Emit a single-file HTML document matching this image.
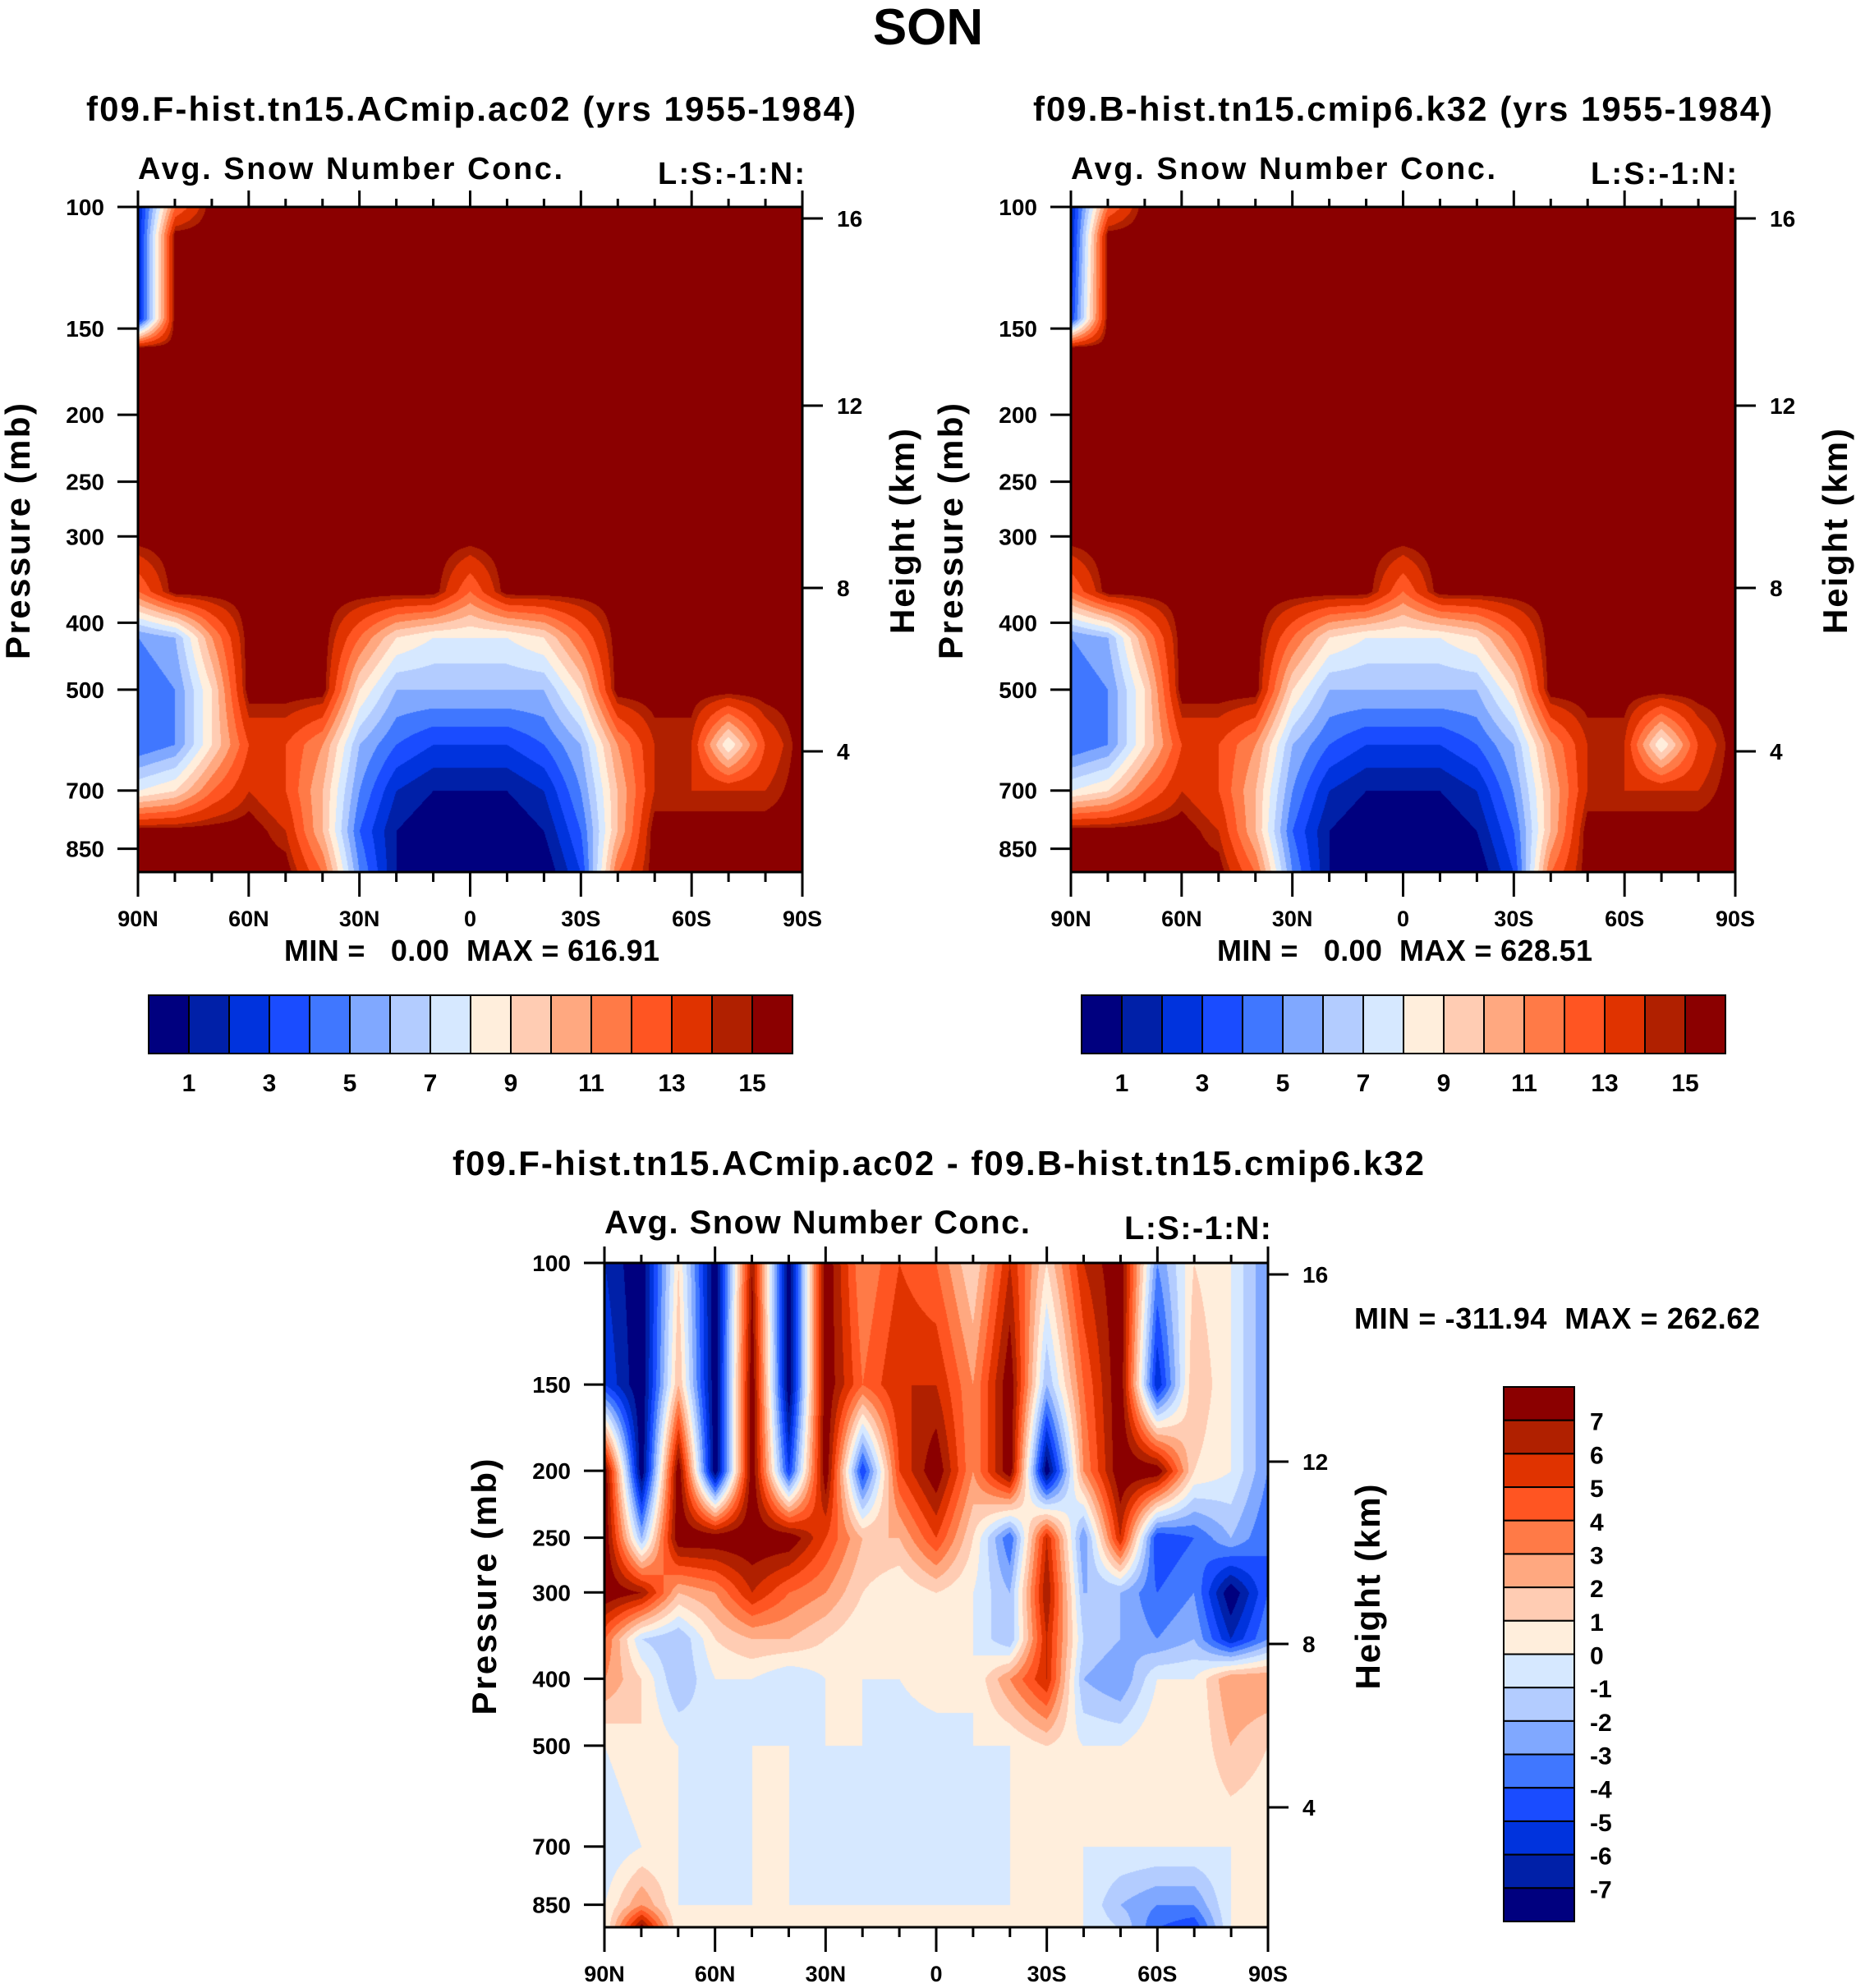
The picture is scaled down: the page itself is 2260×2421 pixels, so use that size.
<!DOCTYPE html>
<html><head><meta charset="utf-8">
<style>
html,body{margin:0;padding:0;background:#fff;}
#wrap{position:relative;width:2260px;height:2421px;overflow:hidden;background:#fff;}
canvas{position:absolute;}
svg{position:absolute;left:0;top:0;}
text{font-family:"Liberation Sans",sans-serif;font-weight:bold;fill:#000;white-space:pre;}
</style></head>
<body>
<div id="wrap">
<canvas id="c1" width="809" height="810" style="left:168px;top:252px"></canvas>
<canvas id="c2" width="809" height="810" style="left:1304px;top:252px"></canvas>
<canvas id="c3" width="808" height="809" style="left:736px;top:1538px"></canvas>
<svg id="ov" width="2260" height="2421"></svg>
</div>
<script>
// ---- data ----
const palette = ["#00007f","#0020a8","#0033dd","#1a4cff","#4077ff","#80a8ff","#b3ccff","#d6e8ff","#ffeedc","#ffccb3","#ffa880","#ff7a47","#ff5522","#e03300","#b02000","#8b0000"];
const topLabels = ["1","3","5","7","9","11","13","15"];
const diffLabels = ["7","6","5","4","3","2","1","0","-1","-2","-3","-4","-5","-6","-7"];
const latLabels = ["90N","60N","30N","0","30S","60S","90S"];
const pressTicks = [100,150,200,250,300,400,500,700,850];
const heightTicks = [16,12,8,4];
const heightOffsets = [14,242,464,663];
const topPress = [100,110,145,160,300,360,420,500,600,700,800,920];
const fieldA = [
[2,12,15,15,15,15,15,15,15,15,15,15,15,15,15,15,15,15,15],
[2,15,15,15,15,15,15,15,15,15,15,15,15,15,15,15,15,15,15],
[2,15,15,15,15,15,15,15,15,15,15,15,15,15,15,15,15,15,15],
[15,15,15,15,15,15,15,15,15,15,15,15,15,15,15,15,15,15,15],
[15,15,15,15,15,15,15,15,15,15,15,15,15,15,15,15,15,15,15],
[12,15,15,15,15,15,15,15,15,12,15,15,15,15,15,15,15,15,15],
[5,6,11,15,15,15,12,9,8,8,8,9,12,15,15,15,15,15,15],
[4,5,9,15,15,15,9,6,6,6,6,6,9,15,15,15,15,15,15],
[4,5,9,13,13,11,6,4,3,3,3,4,6,11,14,14,8,13,15],
[8,9,12,14,13,10,5,2,1,1,1,2,5,10,14,14,14,14,15],
[15,15,15,15,14,10,4,1,0,0,0,1,4,10,15,15,15,15,15],
[15,15,15,15,15,12,5,1,0,0,0,0,3,12,15,15,15,15,15]];
const fieldB = [
[2,12,15,15,15,15,15,15,15,15,15,15,15,15,15,15,15,15,15],
[2,15,15,15,15,15,15,15,15,15,15,15,15,15,15,15,15,15,15],
[3,15,15,15,15,15,15,15,15,15,15,15,15,15,15,15,15,15,15],
[15,15,15,15,15,15,15,15,15,15,15,15,15,15,15,15,15,15,15],
[15,15,15,15,15,15,15,15,15,15,15,15,15,15,15,15,15,15,15],
[12,15,15,15,15,15,15,15,15,12,15,15,15,15,15,15,15,15,15],
[5,6,11,15,15,15,12,9,8,8,8,9,12,15,15,15,15,15,15],
[4,5,9,15,15,15,9,6,6,6,6,6,9,15,15,15,15,15,15],
[4,5,9,13,13,11,6,4,3,3,3,4,6,11,14,14,8,13,15],
[8,9,12,14,13,10,5,2,1,1,1,2,5,10,14,14,14,14,15],
[15,15,15,15,14,10,4,1,0,0,0,1,4,10,15,15,15,15,15],
[15,15,15,15,15,12,5,1,0,0,0,0,3,12,15,15,15,15,15]];
const diffPress = [100,150,200,250,300,350,400,500,700,850,920];
const fieldD = [
[-6,-8,1,-8,7,-8,8,3,5,4,1,6,1,6,8,-3,1,0,-3],
[-5,-8,2,-8,8,-8,8,4,6,6,3,8,-2,4,8,-6,2,0,-3],
[8,-8,8,-8,8,-5,8,-5,5,8,3,8,-8,3,8,8,1,0,-3],
[8,-2,8,8,8,8,5,2,2,5,1,-4,6,-3,6,-5,-4,-2,-4],
[8,7,2,3,6,4,3,1,0,1,0,-2,7,-2,-2,-4,-3,-8,-4],
[4,-1,-2,1,2,2,1,0,0,0,0,-2,6,-1,-2,-3,-2,-6,-3],
[3,1,-2,0,0,-1,0,0,0,1,0,3,6,-2,-3,0,0,3,3],
[0,1,0,-1,0,0,0,0,-1,-1,0,0,1,0,0,1,0,2,1],
[-1,0,0,-1,0,0,-1,0,-1,0,-1,0,0,0,0,0,0,0,0],
[0,3,0,0,0,0,0,0,0,0,0,0,0,0,-2,-3,-3,0,0],
[0,8,0,0,0,0,0,0,0,0,0,0,0,0,-1,-4,-5,0,0]];

const K = 841;
function pY(p){ return Math.log10(p/100)*K; }
function hexRgb(h){return [parseInt(h.substr(1,2),16),parseInt(h.substr(3,2),16),parseInt(h.substr(5,2),16)];}
const rgbs = palette.map(hexRgb);

function drawField(id, press, field, offset, snapTop){
  const c=document.getElementById(id), ctx=c.getContext('2d');
  const W=c.width,H=c.height, img=ctx.createImageData(W,H);
  const ncol=field[0].length;
  const rowsY=press.map(pY);
  for(let y=0;y<H;y++){
    let r=0; while(r<rowsY.length-2 && y>rowsY[r+1]) r++;
    let ty=(y-rowsY[r])/(rowsY[r+1]-rowsY[r]); ty=Math.max(0,Math.min(1,ty));
    for(let x=0;x<W;x++){
      const fx=x/(W-1)*(ncol-1); let i=Math.min(Math.floor(fx),ncol-2); const tx=fx-i;
      const v=(field[r][i]*(1-tx)+field[r][i+1]*tx)*(1-ty)+(field[r+1][i]*(1-tx)+field[r+1][i+1]*tx)*ty;
      let b=(snapTop && v>=14.5)?15:Math.floor(v+offset+1e-6); b=Math.max(0,Math.min(15,b));
      const col=rgbs[b], k=(y*W+x)*4;
      img.data[k]=col[0];img.data[k+1]=col[1];img.data[k+2]=col[2];img.data[k+3]=255;
    }
  }
  ctx.putImageData(img,0,0);
}
drawField('c1',topPress,fieldA,0,true);
drawField('c2',topPress,fieldB,0,true);
drawField('c3',diffPress,fieldD,8,false);

const NS="http://www.w3.org/2000/svg", ov=document.getElementById('ov');
function el(tag,attrs,txt){const e=document.createElementNS(NS,tag);for(const k in attrs)e.setAttribute(k,attrs[k]);if(txt!==undefined)e.textContent=txt;ov.appendChild(e);return e;}
function txt(x,y,s,size,anchor,name,extra){
  const t=el('text',Object.assign({x:x,y:y,'font-size':size,'text-anchor':anchor||'start'},extra||{}),s);
  
  
  return t;
}
function panel(x0,y0,W,H,pre){
  const frame=el('rect',{x:x0,y:y0,width:W,height:H,fill:'none',stroke:'#000','stroke-width':3});
  
  
  pressTicks.forEach(p=>{
    const y=y0+pY(p);
    el('line',{x1:x0-25,y1:y,x2:x0,y2:y,stroke:'#000','stroke-width':3});
    txt(x0-41,y+10,String(p),28,'end',pre+'-pressure-tick-label');
  });
  heightTicks.forEach((h,i)=>{
    const y=y0+heightOffsets[i];
    el('line',{x1:x0+W,y1:y,x2:x0+W+25,y2:y,stroke:'#000','stroke-width':3});
    txt(x0+W+42,y+10,String(h),28,'start',pre+'-height-tick-label');
  });
  for(let k=0;k<=18;k++){
    const x=x0+W*k/18, major=k%3===0, L=major?20:10;
    el('line',{x1:x,y1:y0-L,x2:x,y2:y0,stroke:'#000','stroke-width':3});
    el('line',{x1:x,y1:y0+H,x2:x,y2:y0+H+(major?30:12),stroke:'#000','stroke-width':3});
  }
  latLabels.forEach((s,i)=>txt(x0+W*i/6,y0+H+66,s,27,'middle',pre+'-lat-tick-label'));
  const py=el('text',{x:0,y:0,'font-size':42,'text-anchor':'middle',textLength:312,transform:`translate(${x0-132},${y0+H*0.5-10}) rotate(-90)`},'Pressure (mb)');
  
  
  const hy=el('text',{x:0,y:0,'font-size':42,'text-anchor':'middle',textLength:250,transform:`translate(${x0+W+136},${y0+H*0.5-10}) rotate(-90)`},'Height (km)');
  
  
}
txt(1130,54,'SON',62,'middle','figure-title');
panel(168,252,809,810,'left');
txt(105,147,'f09.F-hist.tn15.ACmip.ac02 (yrs 1955-1984)',42,'start','left-panel-title',{textLength:937});
txt(168,218,'Avg. Snow Number Conc.',38,'start','left-subtitle',{textLength:517});
txt(801,224,'L:S:-1:N:',38,'start','left-subtitle-right',{textLength:179});
txt(346,1170,'MIN =   0.00  MAX = 616.91',36,'start','left-min-max',{textLength:457});
panel(1304,252,809,810,'right');
txt(1258,147,'f09.B-hist.tn15.cmip6.k32 (yrs 1955-1984)',42,'start','right-panel-title',{textLength:900});
txt(1304,218,'Avg. Snow Number Conc.',38,'start','right-subtitle',{textLength:517});
txt(1937,224,'L:S:-1:N:',38,'start','right-subtitle-right',{textLength:178});
txt(1482,1170,'MIN =   0.00  MAX = 628.51',36,'start','right-min-max',{textLength:457});
function hbar(x0,pre){
  const y0=1212,W=784,H=71,bw=W/16;
  palette.forEach((c,i)=>{
    const r=el('rect',{x:x0+i*bw,y:y0,width:bw,height:H,fill:c,stroke:'#000','stroke-width':2});
    
    
  });
  topLabels.forEach((s,i)=>txt(x0+bw*(1+2*i),1329,s,30,'middle',pre+'-colorbar-label'));
}
hbar(181,'left');hbar(1317,'right');
panel(736,1538,808,809,'diff');
txt(551,1431,'f09.F-hist.tn15.ACmip.ac02 - f09.B-hist.tn15.cmip6.k32',42,'start','diff-panel-title',{textLength:1183});
txt(736,1502,'Avg. Snow Number Conc.',40,'start','diff-subtitle',{textLength:518});
txt(1369,1509,'L:S:-1:N:',40,'start','diff-subtitle-right',{textLength:179});
txt(1649,1618,'MIN = -311.94  MAX = 262.62',36,'start','diff-min-max',{textLength:494});
(function(){
  const x0=1831,y0=1689,W=86,H=651,bh=H/16;
  for(let i=0;i<16;i++){
    const r=el('rect',{x:x0,y:y0+i*bh,width:W,height:bh,fill:palette[15-i],stroke:'#000','stroke-width':2});
    
    
  }
  diffLabels.forEach((s,i)=>txt(1936,y0+bh*(i+1)+12,s,30,'start','diff-colorbar-label'));
})();
</script>
</body></html>
